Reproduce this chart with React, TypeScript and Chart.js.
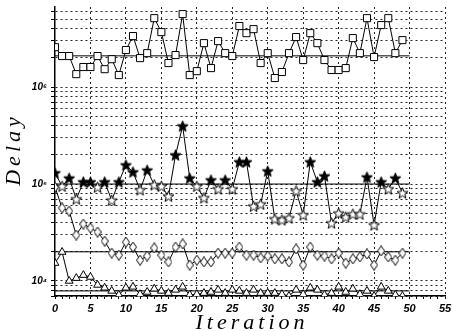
import { useEffect, useRef } from 'react';
import { Chart, registerables } from 'chart.js';

Chart.register(...registerables);

const ITERATIONS = [
  0, 1, 2, 3, 4, 5, 6, 7, 8, 9, 10, 11, 12, 13, 14, 15, 16, 17, 18, 19, 20, 21, 22, 23, 24,
  25, 26, 27, 28, 29, 30, 31, 32, 33, 34, 35, 36, 37, 38, 39, 40, 41, 42, 43, 44, 45, 46, 47, 48, 49,
];

const SQUARE_DELAY = [
  2.58e6, 2.09e6, 2.09e6, 1.36e6, 1.61e6, 1.61e6, 2.09e6, 1.53e6, 1.94e6, 1.33e6,
  2.41e6, 3.36e6, 1.99e6, 2.24e6, 5.14e6, 3.69e6, 1.77e6, 2.14e6, 5.66e6, 1.33e6,
  1.46e6, 2.84e6, 1.57e6, 2.98e6, 2.24e6, 2.09e6, 4.26e6, 3.6e6, 3.96e6, 1.77e6,
  2.24e6, 1.24e6, 1.43e6, 2.24e6, 3.28e6, 1.9e6, 3.6e6, 2.84e6, 1.9e6, 1.5e6,
  1.5e6, 1.57e6, 3.2e6, 2.24e6, 5.14e6, 2.04e6, 4.36e6, 5.14e6, 2.24e6, 3.05e6,
];

const STAR_DELAY = [
  1.3e5, 9.5e4, 1.15e5, 7.0e4, 1.05e5, 1.05e5, 9.3e4, 1.05e5, 6.8e4, 1.05e5,
  1.57e5, 1.33e5, 8.7e4, 1.39e5, 9.8e4, 9.5e4, 7.5e4, 1.99e5, 3.96e5, 1.15e5,
  9.5e4, 7.2e4, 1.1e5, 8.9e4, 1.1e5, 8.9e4, 1.69e5, 1.69e5, 5.9e4, 6.2e4,
  1.36e5, 4.36e4, 4.26e4, 4.46e4, 8.5e4, 4.8e4, 1.69e5, 1.05e5, 1.21e5, 3.96e4,
  5.0e4, 4.57e4, 4.9e4, 4.9e4, 1.18e5, 3.78e4, 1.05e5, 8.9e4, 1.15e5, 8.1e4,
];

const DIAMOND_DELAY = [
  9.3e4, 5.66e4, 5.27e4, 2.98e4, 3.87e4, 3.52e4, 3.2e4, 2.58e4, 1.94e4, 1.85e4,
  2.52e4, 2.24e4, 1.64e4, 1.81e4, 2.19e4, 1.85e4, 1.57e4, 2.24e4, 2.41e4, 1.46e4,
  1.64e4, 1.57e4, 1.57e4, 1.94e4, 1.94e4, 1.94e4, 2.24e4, 1.85e4, 1.85e4, 1.73e4,
  1.81e4, 1.69e4, 1.69e4, 1.57e4, 2.14e4, 1.46e4, 2.24e4, 1.85e4, 1.81e4, 1.69e4,
  1.94e4, 1.53e4, 1.69e4, 1.77e4, 1.9e4, 1.46e4, 2.04e4, 1.77e4, 1.64e4, 1.94e4,
];

const TRIANGLE_DELAY = [
  1.53e4, 1.99e4, 1.0e4, 1.07e4, 1.15e4, 1.1e4, 9.1e3, 8.5e3, 7.9e3, 7.2e3,
  8.5e3, 8.7e3, 7.3e3, 7.7e3, 8.3e3, 7.9e3, 7.5e3, 8.1e3, 8.7e3, 7.2e3,
  7.3e3, 7.5e3, 7.7e3, 8.1e3, 7.5e3, 8.1e3, 7.9e3, 7.5e3, 8.1e3, 7.5e3,
  7.5e3, 7.5e3, 7.3e3, 7.0e3, 8.1e3, 7.3e3, 8.5e3, 8.1e3, 7.2e3, 7.5e3,
  8.7e3, 7.7e3, 8.3e3, 7.3e3, 7.9e3, 7.0e3, 8.7e3, 7.9e3, 7.2e3, 7.0e3,
];

const REFERENCE_LEVELS = [2.1e6, 1.0e5, 2.0e4, 7.9e3];
const REFERENCE_SPAN = [0, 50];

const X_MIN = 0;
const X_MAX = 55;
const Y_MIN = 7000;
const Y_MAX = 6.7e6;

const Y_TICK_VALUES = [
  7e3, 8e3, 9e3,
  1e4, 2e4, 3e4, 4e4, 5e4, 6e4, 7e4, 8e4, 9e4,
  1e5, 2e5, 3e5, 4e5, 5e5, 6e5, 7e5, 8e5, 9e5,
  1e6, 2e6, 3e6, 4e6, 5e6, 6e6,
];

const SUPERSCRIPTS: Record<number, string> = { 3: '³', 4: '⁴', 5: '⁵', 6: '⁶', 7: '⁷' };

const X_TITLE = 'Iteration';
const Y_TITLE = 'Delay';

function makeStar(fill: string) {
  const c = document.createElement('canvas');
  c.width = 13;
  c.height = 13;
  const g = c.getContext('2d')!;
  g.beginPath();
  for (let k = 0; k < 10; k++) {
    const r = k % 2 ? 2.4 : 5.8;
    const a = -Math.PI / 2 + (k * Math.PI) / 5;
    g.lineTo(6.5 + r * Math.cos(a), 7 + r * Math.sin(a));
  }
  g.closePath();
  g.fillStyle = fill;
  g.fill();
  g.strokeStyle = '#000';
  g.lineWidth = 1;
  g.stroke();
  return c;
}

function makeDiamond() {
  const c = document.createElement('canvas');
  c.width = 8;
  c.height = 11;
  const g = c.getContext('2d')!;
  g.beginPath();
  g.moveTo(4, 0.5);
  g.lineTo(7.5, 5.5);
  g.lineTo(4, 10.5);
  g.lineTo(0.5, 5.5);
  g.closePath();
  g.fillStyle = '#fff';
  g.fill();
  g.strokeStyle = '#000';
  g.lineWidth = 1;
  g.stroke();
  return c;
}

const titlePlugin = {
  id: 'spacedAxisTitles',
  afterDraw(chart: any) {
    const { ctx, chartArea } = chart;
    ctx.save();
    ctx.fillStyle = '#000';
    ctx.font = 'italic 22px "Liberation Serif"';
    (ctx as any).letterSpacing = '4px';
    ctx.textAlign = 'center';
    ctx.textBaseline = 'alphabetic';
    ctx.fillText(X_TITLE, (chartArea.left + chartArea.right) / 2 + 2, 329);
    ctx.translate(20, (chartArea.top + chartArea.bottom) / 2);
    ctx.rotate(-Math.PI / 2);
    ctx.fillText(Y_TITLE, 2, 0);
    ctx.restore();
  },
};

export default function App() {
  const canvasRef = useRef<HTMLCanvasElement | null>(null);

  useEffect(() => {
    if (!canvasRef.current) return;
    const starFilled = makeStar('#000');
    const starHollow = makeStar('#fff');
    const diamond = makeDiamond();

    const series = (values: number[]) => values.map((y, i) => ({ x: ITERATIONS[i], y }));

    const common = {
      borderColor: '#000',
      borderWidth: 1,
      pointBorderColor: '#000',
      pointBackgroundColor: '#fff',
      pointBorderWidth: 1,
      tension: 0,
      fill: false,
    };

    const refSets = REFERENCE_LEVELS.map((v) => ({
      data: REFERENCE_SPAN.map((x) => ({ x, y: v })),
      borderColor: '#000',
      borderWidth: 1,
      pointRadius: 0,
      fill: false,
      order: 10,
    }));

    const chart = new Chart(canvasRef.current, {
      type: 'line',
      data: {
        datasets: [
          ...refSets,
          { ...common, data: series(SQUARE_DELAY), pointStyle: 'rect', pointRadius: 5 },
          {
            ...common,
            data: series(STAR_DELAY),
            pointStyle: (c: any) => (c.parsed && c.parsed.y >= 1e5 ? starFilled : starHollow),
            pointRadius: 6,
          },
          { ...common, data: series(DIAMOND_DELAY), pointStyle: diamond, pointRadius: 5 },
          { ...common, data: series(TRIANGLE_DELAY), pointStyle: 'triangle', pointRadius: 4.5 },
        ] as any,
      },
      options: {
        animation: false,
        responsive: false,
        events: [],
        layout: { padding: { top: 7, right: 0, bottom: 0, left: 0 } },
        plugins: { legend: { display: false }, tooltip: { enabled: false } },
        scales: {
          x: {
            type: 'linear',
            min: X_MIN,
            max: X_MAX,
            afterFit: (s: any) => {
              s.height = 35;
              s.paddingLeft = 0;
              s.paddingRight = 5;
            },
            ticks: {
              stepSize: 1,
              autoSkip: false,
              maxRotation: 0,
              padding: 3,
              color: '#000',
              font: { family: 'Liberation Sans', style: 'italic', weight: 'bold', size: 11 },
              callback: (v: any) => (Number(v) % 5 === 0 ? String(v) : ''),
            },
            grid: {
              color: (c: any) => (c.tick && c.tick.value % 5 === 0 && c.tick.value !== 0 ? '#222' : 'transparent'),
              tickColor: '#000',
              tickLength: 3,
              lineWidth: 1,
            },
            border: { display: true, color: '#000', width: 1.5, dash: [2, 3] },
          },
          y: {
            type: 'logarithmic',
            min: Y_MIN,
            max: Y_MAX,
            afterBuildTicks: (s: any) => {
              s.ticks = Y_TICK_VALUES.map((value) => ({ value }));
            },
            afterFit: (s: any) => {
              s.width = 55;
              s.paddingTop = 0;
              s.paddingBottom = 0;
            },
            ticks: {
              autoSkip: false,
              padding: 4,
              color: '#000',
              font: { family: 'Liberation Sans', style: 'italic', weight: 'bold', size: 10 },
              callback: (v: any) => {
                const n = Number(v);
                const e = Math.round(Math.log10(n));
                if (Math.abs(n - Math.pow(10, e)) < 1e-6 * n) return '10' + (SUPERSCRIPTS[e] || String(e));
                return '';
              },
            },
            grid: {
              color: '#222',
              tickColor: '#000',
              tickLength: 4,
              lineWidth: 1,
            },
            border: { display: true, color: '#000', width: 1.5, dash: [2, 3] },
          },
        },
      } as any,
      plugins: [titlePlugin],
    });
    return () => chart.destroy();
  }, []);

  return (
    <div style={{ position: 'fixed', left: 0, top: 0, width: 452, height: 331, background: '#fff' }}>
      <canvas ref={canvasRef} width={452} height={331} style={{ display: 'block' }} />
    </div>
  );
}
